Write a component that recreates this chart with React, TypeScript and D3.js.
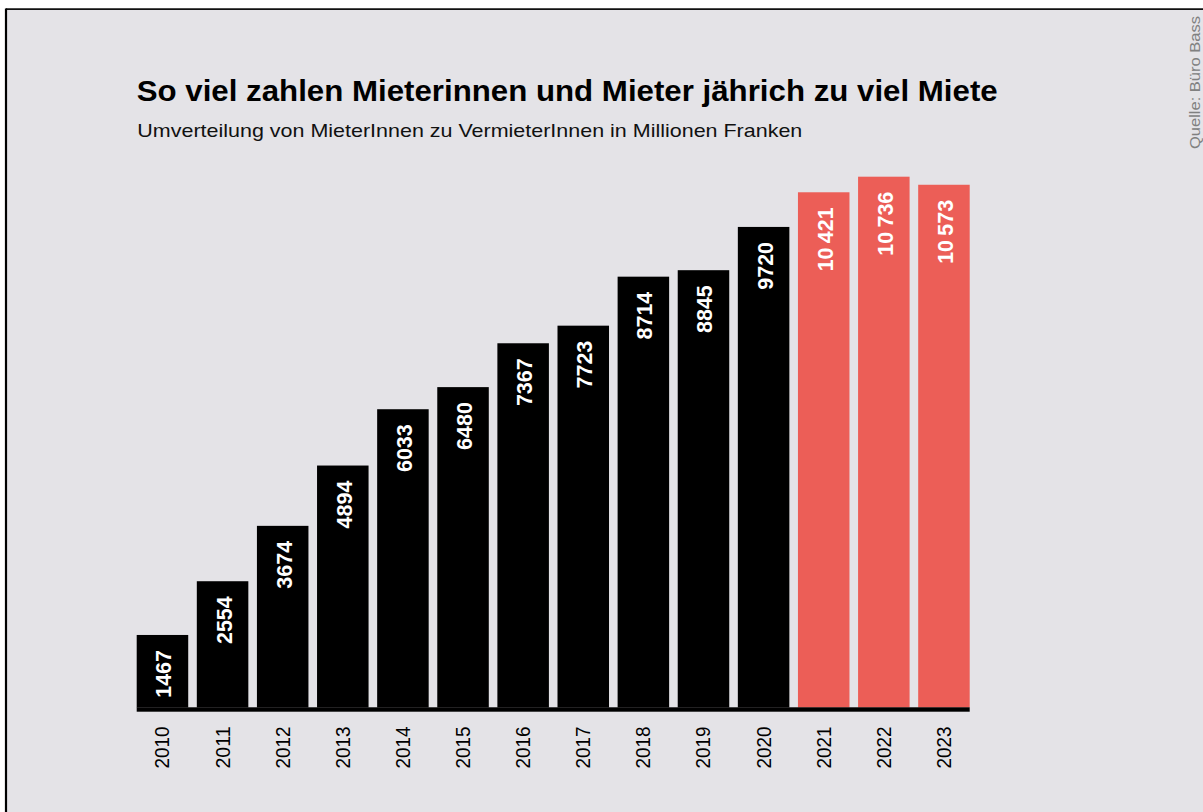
import React from "react";
import * as d3 from "d3";

const years = ["2010","2011","2012","2013","2014","2015","2016","2017","2018","2019","2020","2021","2022","2023"];
const values = [1467, 2554, 3674, 4894, 6033, 6480, 7367, 7723, 8714, 8845, 9720, 10421, 10736, 10573];
const highlighted = ["2021", "2022", "2023"];
const title = "So viel zahlen Mieterinnen und Mieter jährich zu viel Miete";
const subtitle = "Umverteilung von MieterInnen zu VermieterInnen in Millionen Franken";
const source = "Quelle: Büro Bass";

const W = 1203;
const H = 812;
const BG = "#e4e3e7";
const RED = "#ec5e57";
const FONT = "'Liberation Sans', Arial, Helvetica, sans-serif";

function fmt(v: number): string {
  const s = String(v);
  if (v >= 10000) return s.slice(0, s.length - 3) + "\u2009" + s.slice(s.length - 3);
  return s;
}

export default function App() {
  const x = d3.scaleBand<string>().domain(years).range([136.7, 969.7]).paddingInner(0.143).paddingOuter(0);
  const y = d3.scaleLinear().domain([0, 10736]).range([707.5, 176.7]);
  const bw = x.bandwidth();

  return (
    <svg width={W} height={H} style={{ position: "absolute", left: 0, top: 0, display: "block" }}>
      <rect x={0} y={0} width={W} height={H} fill="#ffffff" />
      <rect x={6} y={9} width={W - 6} height={H - 9} fill={BG} />
      <line x1={6} y1={9.1} x2={W} y2={9.1} stroke="#111" strokeWidth={1.8} />
      <line x1={6} y1={8.5} x2={6} y2={H} stroke="#000" strokeWidth={2.2} />

      <text x={136.7} y={100.7} fontFamily={FONT} fontWeight={700} fontSize={29} fill="#000"
        textLength={861} lengthAdjust="spacingAndGlyphs">{title}</text>
      <text x={137.3} y={137.3} fontFamily={FONT} fontWeight={400} fontSize={19} fill="#111"
        textLength={665} lengthAdjust="spacingAndGlyphs">{subtitle}</text>

      <text transform={`translate(1200,16) rotate(-90)`} textAnchor="end" fontFamily={FONT}
        fontSize={14.5} fill="#808080" textLength={133} lengthAdjust="spacingAndGlyphs">{source}</text>

      {years.map((yr, i) => {
        const x0 = x(yr) as number;
        const top = y(values[i]);
        const cx = x0 + bw / 2;
        return (
          <g key={yr}>
            <rect x={x0} y={top} width={bw} height={y(0) - top}
              fill={highlighted.includes(yr) ? RED : "#000"} />
            <text transform={`translate(${cx + 9},${top + 15}) rotate(-90)`} textAnchor="end"
              fontFamily={FONT} fontWeight={700} fontSize={21.5} fill="#fff">{fmt(values[i])}</text>
            <text transform={`translate(${cx + 7},${726.5}) rotate(-90)`} textAnchor="end"
              fontFamily={FONT} fontWeight={400} fontSize={20} fill="#000"
              textLength={42} lengthAdjust="spacingAndGlyphs">{yr}</text>
          </g>
        );
      })}
      <rect x={136.7} y={707.3} width={969.7 - 136.7} height={4.4} fill="#000" />
    </svg>
  );
}
